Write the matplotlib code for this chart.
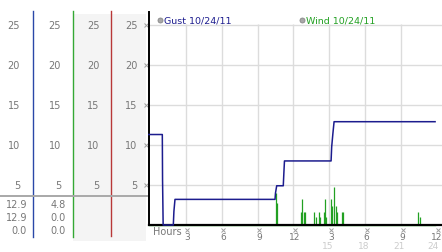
import matplotlib.pyplot as plt
import matplotlib.transforms as mtransforms
from matplotlib.patches import Rectangle
from matplotlib.lines import Line2D

# Gust 10/24/11 (hour of day, mph)
gust_hours = [-0.1, 1.03, 1.05, 1.1, 1.95, 2.0, 2.09, 10.46, 10.5, 10.6, 11.15,
              11.2, 11.25, 15.15, 15.2, 15.3, 15.4, 23.85]
gust_mph = [11.3, 11.3, 5.6, 0.0, 0.0, 1.7, 3.2, 3.2, 4.0, 4.9, 4.9,
            6.5, 8.0, 8.0, 9.75, 11.4, 12.9, 12.9]

# Wind 10/24/11: calm baseline plus short spikes
wind_span = [-0.1, 23.85]
wind_spike_hours = [10.5, 10.6, 12.66, 12.75, 12.9, 13.0, 13.75, 13.86, 14.14, 14.25,
                    14.56, 14.67, 14.76, 15.15, 15.26, 15.42, 15.53, 15.67, 16.04, 16.15,
                    22.45, 22.55]
wind_spike_mph = [4.0, 2.8, 1.6, 3.2, 1.6, 1.6, 1.6, 1.0, 1.6, 1.0,
                  1.6, 3.2, 1.0, 3.2, 2.4, 4.8, 2.4, 1.6, 1.6, 1.6,
                  1.6, 1.0]

y_ticks = [5, 10, 15, 20, 25]
x_tick_hours = [3, 6, 9, 12, 15, 18, 21, 24]
x_tick_labels = ['3', '6', '9', '12', '3', '6', '9', '12']
x_tick_labels_24 = ['', '', '', '', '15', '18', '21', '24']

# current / max / min readings under the scale columns
gust_readings = ['12.9', '12.9', '0.0']
wind_readings = ['4.8', '0.0', '0.0']

W, H = 442, 253
fig = plt.figure(figsize=(W / 100, H / 100), dpi=100)
plt.rcParams['font.family'] = 'DejaVu Sans'

label_gray = '#777777'
light_gray = '#cccccc'
mark_gray = '#a0a0a0'
gust_color = '#1c1c8e'
wind_color = '#22a022'

# --- left scale panel (pixel coords) ---
axl = fig.add_axes([0, 0, 149 / W, 1])
axl.set_xlim(0, 149)
axl.set_ylim(H, 0)
axl.axis('off')

# --- main chart ---
ax = fig.add_axes([149 / W, (H - 226) / H, (W - 149) / W, (226 - 13) / H])
ax.set_xlim(-0.084, 24.43)
ax.set_ylim(0, 26.6)
ax.patch.set_alpha(0)
for s in ['top', 'right']:
    ax.spines[s].set_visible(False)
ax.spines['left'].set_linewidth(1.4)
ax.spines['bottom'].set_linewidth(1.6)
ax.set_xticks([])
ax.set_yticks([])

for y in y_ticks:
    ax.axhline(y, color='#dcdcdc', lw=1.0, zorder=0)
ax.vlines(x_tick_hours[:-1], 0, 25.1, color='#dcdcdc', lw=1.0, zorder=0)

ax.plot(wind_span, [0, 0], color=wind_color, lw=1.0, zorder=2, clip_on=False)
ax.vlines(wind_spike_hours, 0, wind_spike_mph, color=wind_color, lw=0.9, zorder=2)
ax.plot(gust_hours, gust_mph, color=gust_color, lw=1.1, zorder=3, clip_on=False)

# x tick marks and labels
xt = mtransforms.blended_transform_factory(ax.transData, axl.transData)
xt = mtransforms.offset_copy(xt, fig=fig, x=1.5, y=0, units='dots')
ax.plot(x_tick_hours, [230.5] * len(x_tick_hours), 'x', transform=xt, ms=2.2,
        mew=0.7, color=mark_gray, clip_on=False)
for h, lab, lab2 in zip(x_tick_hours, x_tick_labels, x_tick_labels_24):
    ha = 'right' if h == x_tick_hours[-1] else 'center'
    hx = h + 0.3 if ha == 'right' else h
    ax.text(hx, 237.5, lab, transform=xt, ha=ha, va='center',
            fontsize=6.5, color=label_gray)
    if lab2:
        ax.text(hx - 0.25, 247, lab2, transform=xt, ha=ha, va='center',
                fontsize=6.5, color=light_gray)
ax.text(153, 232, 'Hours', transform=axl.transData, ha='left', va='center',
        fontsize=7, color=label_gray)

# legend
for x0, name, col in [(160, 'Gust 10/24/11', gust_color), (301.5, 'Wind 10/24/11', wind_color)]:
    fig.add_artist(Line2D([x0 / W], [1 - 21.3 / H], marker='o', markersize=3.6,
                          color='#a8a8a8', markeredgecolor='#888888', markeredgewidth=0.6))
    fig.text((x0 + 4) / W, 1 - 21.3 / H, name, ha='left', va='center',
             fontsize=6.8, color=col)

# left panel backgrounds and dividers
axl.add_patch(Rectangle((72.5, 15), 38.5, 227, color='#f4f4f4', lw=0))
axl.add_patch(Rectangle((111, 15), 34.5, 227, color='#f4f4f4', lw=0))
axl.plot([33, 33], [12, 238], color='#2a48a8', lw=1.0)
axl.plot([72.5, 72.5], [12, 238], color='#34a834', lw=1.0)
axl.plot([111, 111], [12, 237], color='#b83838', lw=1.0)
axl.plot([0, 149], [197.3, 197.3], color='#a8a8a8', lw=1.4)

yt = mtransforms.blended_transform_factory(axl.transData, ax.transData)
for xr in [20, 61, 99.5, 137.5]:
    for y in y_ticks:
        axl.text(xr, y, str(y), transform=yt, ha='right', va='center',
                 fontsize=7, color=label_gray)
axl.plot([146] * len(y_ticks), y_ticks, 'x', transform=yt, ms=2.2, mew=0.7,
         color=mark_gray, clip_on=False)

for yp, g, w in zip([205, 218, 231.5], gust_readings, wind_readings):
    axl.text(27, yp, g, ha='right', va='center', fontsize=7, color=label_gray)
    axl.text(66, yp, w, ha='right', va='center', fontsize=7, color=label_gray)

fig.savefig('out.png', dpi=100)
